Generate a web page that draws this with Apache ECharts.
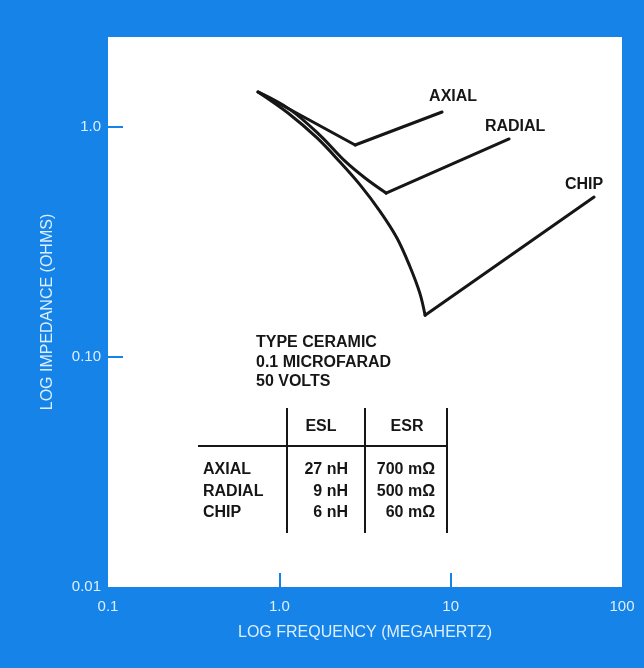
<!DOCTYPE html>
<html>
<head>
<meta charset="utf-8">
<script src="https://cdn.jsdelivr.net/npm/echarts@6/dist/echarts.min.js"></script>
<style>
  html, body { margin: 0; padding: 0; background: #1683e8; }
  #chart { width: 644px; height: 668px; }
</style>
</head>
<body>
<div id="chart"></div>
<script>
// frequency in MHz, impedance in ohms
const axialFreq = [0.751, 2.77, 8.91];
const axialImp = [1.42, 0.835, 1.162];

const radialFreq = [0.751, 1.155, 1.728, 2.418, 3.165, 4.198, 21.93];
const radialImp = [1.42, 1.19, 0.92, 0.71, 0.600, 0.516, 0.887];

const chipFreq = [0.751, 1.124, 1.66, 2.26, 2.96, 3.87, 4.85, 5.75, 6.6, 7.09, 68.7];
const chipImp = [1.42, 1.15, 0.896, 0.704, 0.56, 0.43, 0.33, 0.25, 0.19, 0.152, 0.496];

const xTickValues = [0.1, 1, 10, 100];
const xTickLabels = ['0.1', '1.0', '10', '100'];
const yTickValues = [0.01, 0.1, 1];
const yTickLabels = ['0.01', '0.10', '1.0'];

const noteLines = ['TYPE CERAMIC', '0.1 MICROFARAD', '50 VOLTS'];
const tableHeader = ['ESL', 'ESR'];
const rowNames = ['AXIAL', 'RADIAL', 'CHIP'];
const eslValues = ['27 nH', '9 nH', '6 nH'];
const esrValues = ['700 m\u03A9', '500 m\u03A9', '60 m\u03A9'];

const BLUE = '#1683e8';
const LABEL = '#dcefff';
const INK = '#161616';
const FONT = "'Liberation Sans', Arial, sans-serif";

function pairs(xs, ys) {
  return xs.map((x, i) => [x, ys[i]]);
}

function lookup(values, labels) {
  return (v) => {
    for (let i = 0; i < values.length; i++) {
      if (Math.abs(Math.log10(v) - Math.log10(values[i])) < 0.01) return labels[i];
    }
    return '';
  };
}

// each curve = smooth falling (capacitive) branch + straight rising (inductive) branch
function curve(name, xs, ys, offset) {
  const pts = pairs(xs, ys);
  const k = ys.indexOf(Math.min.apply(null, ys));
  const line = { color: INK, width: 3, join: 'miter', cap: 'round' };
  return [
    {
      name: name + ' fall',
      type: 'line',
      data: pts.slice(0, k + 1),
      showSymbol: false,
      silent: true,
      smooth: 0.35,
      lineStyle: line
    },
    {
      name: name,
      type: 'line',
      data: pts.slice(k),
      showSymbol: false,
      silent: true,
      lineStyle: line,
      endLabel: {
        show: true,
        formatter: '{a}',
        distance: 0,
        offset: offset,
        align: 'center',
        verticalAlign: 'middle',
        color: INK,
        fontFamily: FONT,
        fontWeight: 'bold',
        fontSize: 16
      }
    }
  ];
}

// table + note text
const graphics = [];
noteLines.forEach((t, i) => {
  graphics.push({
    type: 'text', left: 256, top: 335 + i * 19.5,
    style: { text: t, fill: INK, font: 'bold 16px ' + FONT }
  });
});
[287, 365, 447].forEach(x => {
  graphics.push({
    type: 'line', shape: { x1: x, y1: 408, x2: x, y2: 533 },
    style: { stroke: INK, lineWidth: 2 }
  });
});
graphics.push({
  type: 'line', shape: { x1: 198, y1: 446, x2: 447, y2: 446 },
  style: { stroke: INK, lineWidth: 2 }
});
[321, 407].forEach((x, i) => {
  graphics.push({
    type: 'text', x: x, y: 427,
    style: { text: tableHeader[i], fill: INK, font: 'bold 16px ' + FONT, align: 'center', verticalAlign: 'middle' }
  });
});
rowNames.forEach((n, i) => {
  const y = 470 + i * 21.5;
  graphics.push({
    type: 'text', x: 203, y: y,
    style: { text: n, fill: INK, font: 'bold 16px ' + FONT, align: 'left', verticalAlign: 'middle' }
  });
  graphics.push({
    type: 'text', x: 348, y: y,
    style: { text: eslValues[i], fill: INK, font: 'bold 16px ' + FONT, align: 'right', verticalAlign: 'middle' }
  });
  graphics.push({
    type: 'text', x: 435, y: y,
    style: { text: esrValues[i], fill: INK, font: 'bold 16px ' + FONT, align: 'right', verticalAlign: 'middle' }
  });
});

const chart = echarts.init(document.getElementById('chart'));
chart.setOption({
  backgroundColor: BLUE,
  animation: false,
  grid: {
    left: 108, right: 22, top: 37, bottom: 81,
    show: true, backgroundColor: '#ffffff', borderWidth: 0
  },
  xAxis: {
    type: 'log',
    min: 0.1,
    max: 100,
    name: 'LOG FREQUENCY (MEGAHERTZ)',
    nameLocation: 'middle',
    nameGap: 38,
    nameTextStyle: { color: LABEL, fontFamily: FONT, fontSize: 16 },
    axisLine: { show: false },
    axisTick: {
      show: true, inside: true, length: 14,
      customValues: [1, 10],
      lineStyle: { color: BLUE, width: 2 }
    },
    splitLine: { show: false },
    axisLabel: {
      color: LABEL, fontFamily: FONT, fontSize: 15, margin: 12,
      showMinLabel: true, showMaxLabel: true,
      formatter: lookup(xTickValues, xTickLabels)
    }
  },
  yAxis: {
    type: 'log',
    min: 0.01,
    max: 2.462,
    name: 'LOG IMPEDANCE (OHMS)',
    nameLocation: 'middle',
    nameGap: 52,
    nameTextStyle: { color: LABEL, fontFamily: FONT, fontSize: 16 },
    axisLine: { show: false },
    axisTick: {
      show: true, inside: true, length: 15,
      customValues: [0.1, 1],
      lineStyle: { color: BLUE, width: 2 }
    },
    splitLine: { show: false },
    axisLabel: {
      color: LABEL, fontFamily: FONT, fontSize: 15, margin: 7,
      showMinLabel: true,
      formatter: lookup(yTickValues, yTickLabels)
    }
  },
  series: [].concat(
    curve('AXIAL', axialFreq, axialImp, [11, -15]),
    curve('RADIAL', radialFreq, radialImp, [6, -12]),
    curve('CHIP', chipFreq, chipImp, [-10, -12])
  ),
  graphic: graphics
});
</script>
</body>
</html>
